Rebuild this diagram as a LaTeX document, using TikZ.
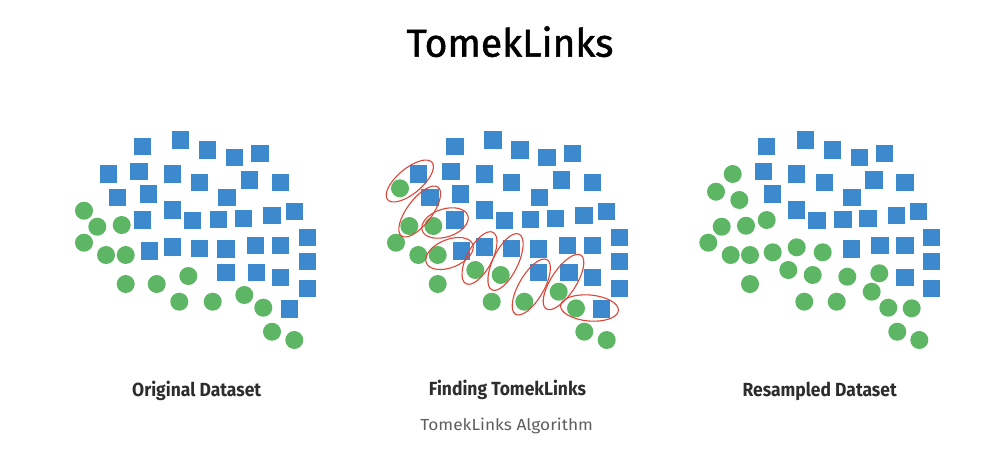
\documentclass[tikz,border=0pt]{standalone}
\usepackage{fontspec}
\setmainfont{Fira Sans}
\newfontfamily\labfont[FakeStretch=0.92]{Fira Sans}
\newfontfamily\titlefont[FakeBold=1.3]{Fira Sans}
\newfontfamily\capfont[FakeStretch=1.08]{Fira Sans}
\usetikzlibrary{shapes.geometric}
\definecolor{sqblue}{RGB}{61,137,206}
\definecolor{cgreen}{RGB}{92,182,100}
\definecolor{lred}{RGB}{222,70,58}
\definecolor{labgray}{RGB}{45,45,45}
\definecolor{capgray}{RGB}{95,95,95}
\begin{document}
\begin{tikzpicture}[x=1pt,y=-1pt,
  sq/.style={rectangle,fill=sqblue,minimum size=17.5pt,inner sep=0pt},
  dot/.style={circle,fill=cgreen,minimum size=18pt,inner sep=0pt},
  tl/.style={ellipse,draw=lred,line width=1.1pt,inner sep=0pt},
  lab/.style={anchor=base,text=labgray,font=\labfont\bfseries\fontsize{19}{21}\selectfont},
  captxt/.style={anchor=base,text=capgray,font=\capfont\fontsize{16}{18}\selectfont}]
\useasboundingbox[fill=white] (0,0) rectangle (997,467);
% title
\node[anchor=base,font=\titlefont\fontsize{39}{44}\selectfont] (title) at (510,56.7) {TomekLinks};
% ---------- panel 1 ----------
\foreach \x/\y [count=\i] in {142.3/146.7,180.7/140,207.7/150,234.7/157.3,260/153.3,
 108.7/174,139/171.7,172.3/174,199.7/182.3,249.7/180,280.7/182.3,
 117.3/197.3,148.7/194,227/197.3,
 142.3/220,172.3/210,192.7/220.7,218.7/219.3,243.7/218.7,272/215.7,294.3/211.7,
 149.3/251,172.3/247,199.7/248.3,226/249,255.7/245.7,280.7/245.7,307.3/237.3,
 226/272.7,256.7/272.7,280.7/277.3,307.3/261.7,
 307.3/288.3,289.3/309}
  \node[sq] (pa\i) at (\x,\y) {};
\foreach \x/\y [count=\i] in {84/210.7,97.3/226.7,121.7/225,84/242.7,106/255,125.7/255,
 125.7/284,156.7/284,188.3/276,179.3/301.7,212.7/301.7,244.3/295,263.3/307.7,272/331.7,294.3/340}
  \node[dot] (ca\i) at (\x,\y) {};
% ---------- panel 2 ----------
\foreach \x/\y [count=\i] in {455/146.7,493/140,520/150,547/157.3,572.3/153.3,
 418.7/174,451/171.7,484.3/174,511.7/182.3,561.7/180,592.7/182.3,
 430/197.3,460.7/194,539.3/197.3,
 455/220,484.3/210,504.7/220.7,530.7/219.3,555.7/218.7,584/215.7,606.3/211.7,
 461.3/251,484.3/247,511.7/248.3,538.3/249,567.7/245.7,592.7/245.7,619.3/237.3,
 538.3/272.7,569/272.7,592.7/277.3,619.3/261.7,
 619.3/288.3,601.7/309}
  \node[sq] (pb\i) at (\x,\y) {};
\foreach \x/\y [count=\i] in {400/188.3,409.3/226,433.3/226,396/242.7,418.3/255,437.7/255,
 437.7/284,475.3/270,500.7/275,491.7/301.7,524.3/301.7,558.7/291.7,576/308.3,584.3/331.7,606.7/340}
  \node[dot] (cb\i) at (\x,\y) {};
% Tomek link ellipses
\foreach \x/\y/\w/\h/\r [count=\i] in {
 409.8/181/58/25/40, 419.7/211.5/61/25/53, 445/223/48/28/18, 449.5/253.5/50/28/22,
 479.5/258/58/25/62, 505.5/262/62/25/64, 531.3/287/63/25/60, 563.5/282/64/25/57,
 589.5/308/58/26/-5}
  \node[tl,minimum width=\w pt,minimum height=\h pt,rotate=\r] (e\i) at (\x,\y) {};
% ---------- panel 3 ----------
\begin{scope}
\clip (650,100) rectangle (940,360);
\foreach \x/\y [count=\i] in {766.7/146.7,805.3/140,832.3/150,859.3/157.3,884.7/153.3,
 763.3/171.7,796.7/174,824.7/182.3,874/180,905/182.3,
 772.7/194,852/197.3,
 796.7/210,817/220.7,843/219.3,868/218.7,896.7/215.7,918.7/211.7,
 851.3/249,880/245.7,905/245.7,931.7/237.3,
 905/277.3,931.7/261.7,
 931.7/288.3}
  \node[sq] (pc\i) at (\x,\y) {};
\end{scope}
\foreach \x/\y [count=\i] in {732.7/174,716/191.7,739.3/200,721.7/226.7,746/225.7,766.7/220,
 708.3/242.7,730.7/255,750/255,772.7/252.3,796.7/247.3,822.7/252.3,
 788.3/270,812.7/275,847.3/276.7,879.3/273.3,750/284,804.3/301.7,836.7/301.7,
 871.7/291.7,888.3/307.7,911.7/308.3,897.3/331.7,919.3/340}
  \node[dot] (cc\i) at (\x,\y) {};
% labels
\node[lab] (l1) at (196.7,396) {Original Dataset};
\node[lab] (l2) at (507.5,395.5) {Finding TomekLinks};
\node[lab] (l3) at (819.7,396) {Resampled Dataset};
\node[captxt] (capt) at (506.7,430.5) {TomekLinks Algorithm};
\end{tikzpicture}
\end{document}
